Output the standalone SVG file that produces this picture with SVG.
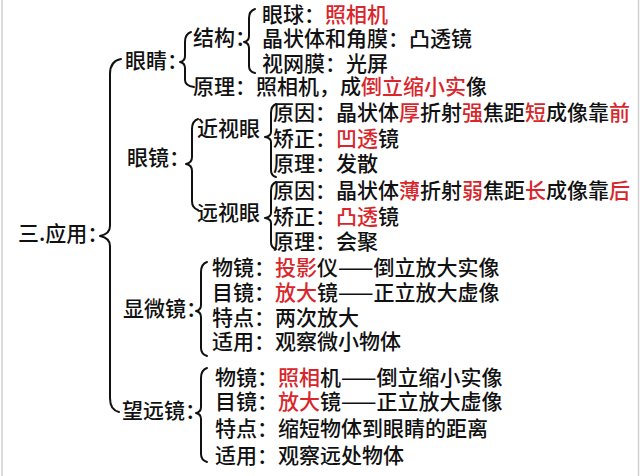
<svg xmlns="http://www.w3.org/2000/svg" width="640" height="476" viewBox="0 0 640 476">
<style>
text{font-family:"Noto Sans CJK SC","Noto Sans",sans-serif;font-size:21px;font-weight:500;fill:#111;}
.r{fill:#d8262b;}
.br{fill:none;stroke:#111;stroke-width:2;stroke-linecap:round;stroke-linejoin:round;}
.bd{stroke:#d0d0d0;stroke-width:1.5;}
</style>
<rect width="640" height="476" fill="#ffffff"/>
<line class="bd" x1="2" y1="0" x2="2" y2="476"/>
<line class="bd" x1="638.5" y1="0" x2="638.5" y2="476"/>
<g id="connectors">
<path class="br" d="M121,59 Q110,61 110,74 L110,226 Q110,234 100,236 Q110,238 110,246 L110,398 Q110,410 119,412"/>
<path class="br" d="M191,32 Q185,34 185,42 L185,56 Q185,61 180,62 Q185,63 185,68 L185,80 Q185,86 194,87"/>
<path class="br" d="M255,9 Q249,11 249,18 L249,36 Q249,41 244,42 Q249,43 249,48 L249,66 Q249,72 255,73"/>
<path class="br" d="M198,119 Q192,121 192,129 L192,157 Q192,163 186,164 Q192,165 192,171 L192,201 Q192,208 198,210"/>
<path class="br" d="M276,104 Q271,106 271,113 L271,132 Q271,136 265,137 Q271,138 271,142 L271,170 Q271,176 276,177"/>
<path class="br" d="M276,182 Q271,184 271,191 L271,213 Q271,217 265,218 Q271,219 271,223 L271,242 Q271,248 276,249"/>
<path class="br" d="M207,262 Q201,264 201,272 L201,305 Q201,310 196,311 Q201,312 201,317 L201,348 Q201,354 207,356"/>
<path class="br" d="M207,368 Q201,370 201,378 L201,407 Q201,412 196,413 Q201,414 201,419 L201,454 Q201,460 207,462"/>
</g>
<g id="root"><text x="18" y="241">三.应用：</text></g>
<g id="eye"><text x="125" y="68">眼睛：</text></g>
<g id="structure"><text x="193" y="45">结构：</text></g>
<g id="eyeball"><text x="262" y="22">眼球：<tspan class="r">照相机</tspan></text></g>
<g id="lens"><text x="262" y="46">晶状体和角膜：凸透镜</text></g>
<g id="retina"><text x="262" y="71">视网膜：光屏</text></g>
<g id="eye-principle"><text x="193" y="94">原理：照相机，成<tspan class="r">倒立缩小实</tspan>像</text></g>
<g id="glasses"><text x="127" y="165">眼镜：</text></g>
<g id="myopia"><text x="197" y="136">近视眼</text></g>
<g id="myopia-cause"><text x="273" y="120">原因：晶状体<tspan class="r">厚</tspan>折射<tspan class="r">强</tspan>焦距<tspan class="r">短</tspan>成像靠<tspan class="r">前</tspan></text></g>
<g id="myopia-fix"><text x="273" y="146">矫正：<tspan class="r">凹透</tspan>镜</text></g>
<g id="myopia-principle"><text x="273" y="171">原理：发散</text></g>
<g id="hyperopia"><text x="197" y="220">远视眼</text></g>
<g id="hyperopia-cause"><text x="273" y="198">原因：晶状体<tspan class="r">薄</tspan>折射<tspan class="r">弱</tspan>焦距<tspan class="r">长</tspan>成像靠<tspan class="r">后</tspan></text></g>
<g id="hyperopia-fix"><text x="273" y="224">矫正：<tspan class="r">凸透</tspan>镜</text></g>
<g id="hyperopia-principle"><text x="273" y="249">原理：会聚</text></g>
<g id="microscope"><text x="123" y="316">显微镜：</text></g>
<g id="micro-objective"><text x="212" y="275">物镜：<tspan class="r">投影</tspan>仪——倒立放大实像</text></g>
<g id="micro-eyepiece"><text x="212" y="300">目镜：<tspan class="r">放大</tspan>镜——正立放大虚像</text></g>
<g id="micro-feature"><text x="212" y="325">特点：两次放大</text></g>
<g id="micro-use"><text x="212" y="349">适用：观察微小物体</text></g>
<g id="telescope"><text x="122" y="418">望远镜：</text></g>
<g id="tele-objective"><text x="215" y="385">物镜：<tspan class="r">照相</tspan>机——倒立缩小实像</text></g>
<g id="tele-eyepiece"><text x="215" y="409">目镜：<tspan class="r">放大</tspan>镜——正立放大虚像</text></g>
<g id="tele-feature"><text x="215" y="436">特点：缩短物体到眼睛的距离</text></g>
<g id="tele-use"><text x="215" y="463">适用：观察远处物体</text></g>
</svg>
